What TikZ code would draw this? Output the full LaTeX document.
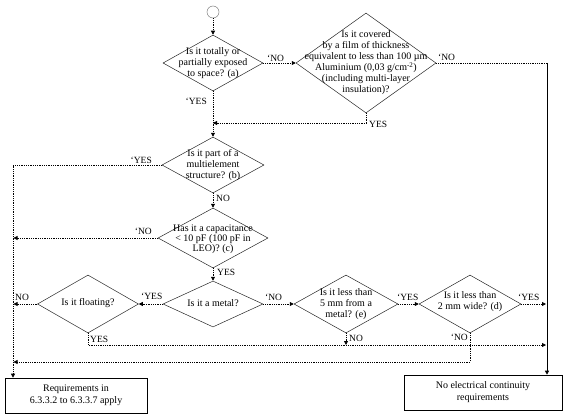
\documentclass[tikz,border=0pt]{standalone}
\usepackage{fontspec}
\setmainfont{Liberation Serif}
\usetikzlibrary{arrows.meta,shapes.geometric,shadows}
\begin{document}
\begin{tikzpicture}[x=1pt,y=-1pt,
  dia/.style={draw=black!85, diamond, inner sep=0pt, line width=0.5pt},
  txt/.style={align=center, font=\fontsize{10}{11}\selectfont, inner sep=0pt},
  lbl/.style={font=\fontsize{9.5}{10}\selectfont, inner sep=0pt},
  flow/.style={densely dotted, line width=0.8pt},
  arr/.style={-{Triangle[length=4pt,width=4pt]}},
  box/.style={draw, line width=0.6pt, align=center, fill=white,
    font=\fontsize{10}{12}\selectfont, inner sep=0pt,
    drop shadow={shadow xshift=1.2pt, shadow yshift=-1.2pt, fill=black!60, opacity=1}}
]
\useasboundingbox (0,0) rectangle (567,417);

% start
\node[circle, draw=black!50, line width=0.5pt, minimum size=12pt, inner sep=0pt] (s) at (213,12) {};

% diamonds
\node[dia, minimum width=100pt, minimum height=56pt] (d1) at (213,63) {};
\node[txt] (t1) at (213,63) {Is it totally or\\partially exposed\\to space? (a)};

\node[dia, minimum width=140pt, minimum height=100pt] (d2) at (366,63) {};
\node[txt] (t2) at (366,63) {Is it covered\\by a film of thickness\\equivalent to less than 100 µm\\Aluminium (0,03 g/cm\textsuperscript{-2})\\(including multi-layer\\insulation)?};

\node[dia, minimum width=102pt, minimum height=56pt] (d3) at (213,165) {};
\node[txt] (t3) at (213,165) {Is it part of a\\multielement\\structure? (b)};

\node[dia, minimum width=110pt, minimum height=60pt] (d4) at (213,238) {};
\node[txt, font=\fontsize{10}{10}\selectfont] (t4) at (213,239) {Has it a capacitance\\< 10 pF (100 pF in\\LEO)? (c)};

\node[dia, minimum width=100pt, minimum height=46pt] (d5) at (213,304) {};
\node[txt] (t5) at (213,303) {Is it a metal?};

\node[dia, minimum width=101pt, minimum height=58pt] (dF) at (88,304) {};
\node[txt] (tF) at (88,303) {Is it floating?};

\node[dia, minimum width=104pt, minimum height=58pt] (d6) at (346,304) {};
\node[txt] (t6) at (346,304) {Is it less than\\5 mm from a\\metal? (e)};

\node[dia, minimum width=102pt, minimum height=58pt] (d7) at (470,304) {};
\node[txt] (t7) at (470,302) {Is it less than\\2 mm wide? (d)};

% boxes
\node[box, minimum width=142pt, minimum height=35pt] (b1) at (76,395.5) {Requirements in\\6.3.3.2 to 6.3.3.7 apply};
\node[box, minimum width=158pt, minimum height=35pt] (b2) at (483,392.5) {No electrical continuity\\requirements};

% helper coordinates
\coordinate (c1) at (547,63);
\coordinate (c2) at (366,123);
\coordinate (c3) at (213,123);
\coordinate (L1) at (13,165);
\coordinate (L2) at (13.5,238);
\coordinate (L3) at (13.5,304);
\coordinate (f1) at (88,345);
\coordinate (f2) at (546,345);
\coordinate (g1) at (346,345);
\coordinate (r1) at (546,304);
\coordinate (h1) at (470,362);
\coordinate (h2) at (13.5,362);

% connectors
\draw[flow,arr] (s.south) -- (d1.north);
\draw[flow,arr] (d1.east) -- (d2.west);
\draw[flow] (d2.east) -- (c1);
\draw[line width=0.8pt,arr] (c1) -- (c1 |- b2.north);
\draw[flow,arr] (d2.south) -- (c2) -- (c3);
\draw[flow,arr] (d1.south) -- (d3.north);
\draw[flow,arr] (d3.west) -- (L1) -- (L1 |- b1.north);
\draw[flow,arr] (d3.south) -- (d4.north);
\draw[flow,arr] (d4.west) -- (L2);
\draw[flow,arr] (d4.south) -- (d5.north);
\draw[flow,arr] (d5.east) -- (d6.west);
\draw[flow,arr] (d5.west) -- (dF.east);
\draw[flow,arr] (dF.west) -- (L3);
\draw[flow,arr] (dF.south) -- (f1) -- (f2);
\draw[flow,arr] (d6.south) -- (g1);
\draw[flow,arr] (d6.east) -- (d7.west);
\draw[flow,arr] (d7.east) -- (r1);
\draw[flow,arr] (d7.south) -- (h1) -- (h2);

% labels
\node[lbl, anchor=west] (l1) at (267,58) {`NO};
\node[lbl, anchor=west] (l2) at (438,57) {`NO};
\node[lbl, anchor=west] (l3) at (369,124) {YES};
\node[lbl, anchor=east] (l4) at (207,101) {`YES};
\node[lbl, anchor=east] (l5) at (152,160) {`YES};
\node[lbl, anchor=west] (l6) at (216,198) {NO};
\node[lbl, anchor=east] (l7) at (152,231) {`NO};
\node[lbl, anchor=west] (l8) at (217,272) {YES};
\node[lbl, anchor=west] (l9) at (265,297) {`NO};
\node[lbl, anchor=west] (l10) at (141,296) {`YES};
\node[lbl, anchor=west] (l11) at (15,297) {NO};
\node[lbl, anchor=west] (l12) at (90,339) {YES};
\node[lbl, anchor=west] (l13) at (397,297) {`YES};
\node[lbl, anchor=west] (l14) at (349,338) {NO};
\node[lbl, anchor=west] (l15) at (518,297) {`YES};
\node[lbl, anchor=east] (l16) at (468,337) {`NO};
\end{tikzpicture}
\end{document}
